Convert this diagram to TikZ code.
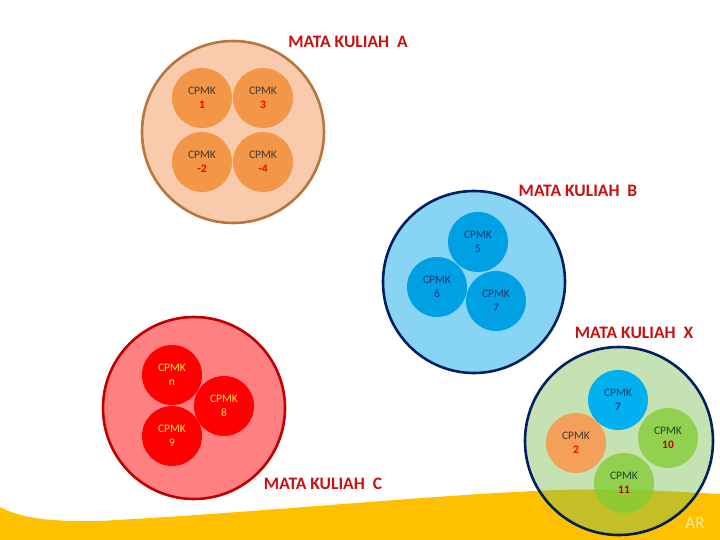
\documentclass[tikz,border=0pt]{standalone}
\usepackage{fontspec}
\setmainfont{Carlito}
\definecolor{pitajuning}{RGB}{255,192,0}
\definecolor{judulmerah}{RGB}{200,16,16}
\definecolor{navy}{RGB}{0,32,96}
\definecolor{tinta}{RGB}{64,56,48}
\definecolor{peach}{RGB}{248,203,173}
\definecolor{coklat}{RGB}{185,118,60}
\definecolor{jingga}{RGB}{242,150,72}
\definecolor{birumuda}{RGB}{135,212,245}
\definecolor{biru}{RGB}{0,160,228}
\definecolor{birutinta}{RGB}{30,60,110}
\definecolor{merahmuda}{RGB}{255,128,128}
\definecolor{merahtua}{RGB}{192,0,0}
\definecolor{kuning}{RGB}{255,226,70}
\definecolor{hijaumuda}{RGB}{125,190,85}
\definecolor{hijau}{RGB}{133,204,55}
\definecolor{hijautinta}{RGB}{25,70,40}
\definecolor{jinggax}{RGB}{244,160,90}
\definecolor{birux}{RGB}{0,176,240}

\begin{document}
\begin{tikzpicture}[x=1pt,y=1pt,
	mk/.style={circle,minimum size=182pt,line width=2.6pt},
	cpmk/.style={circle,minimum size=60pt,align=center,font=\fontsize{11.5}{13.5}\selectfont},
	judul/.style={text=judulmerah,font=\fontsize{17.5}{19}\selectfont\bfseries}]
					\tikzstyle{every node}+=[inner sep=0pt]
					\useasboundingbox (0,0) rectangle (720,-540);
					% pita kuning di bawah
					\fill [pitajuning] (0,-507) .. controls (20,-518) and (50,-522) .. (100,-521)
						.. controls (280,-511) and (440,-494) .. (560,-490)
						.. controls (630,-488) and (680,-492) .. (720,-494) -- (720,-540) -- (0,-540) -- cycle;
					\node [text=pitajuning!35!white,font=\fontsize{17}{18}\selectfont] (ar) at (695,-523) {AR};
					% mata kuliah A
					\node [mk,draw=coklat,fill=peach] (mkA) at (233,-132) {};
					\node [cpmk,fill=jingga,text=tinta] (a1) at (202,-98) {CPMK\\\textcolor{red}{\bfseries 1}};
					\node [cpmk,fill=jingga,text=tinta] (a3) at (263,-98) {CPMK\\\textcolor{red}{\bfseries 3}};
					\node [cpmk,fill=jingga,text=tinta] (a2) at (202,-162) {CPMK\\\textcolor{red}{\bfseries -2}};
					\node [cpmk,fill=jingga,text=tinta] (a4) at (263,-162) {CPMK\\\textcolor{red}{\bfseries -4}};
					\node [judul] (tA) at (348,-42) {MATA KULIAH\ \ A};
					% mata kuliah B
					\node [mk,draw=navy,fill=birumuda] (mkB) at (474,-282) {};
					\node [cpmk,fill=biru,text=birutinta] (b5) at (478,-242) {CPMK\\5};
					\node [cpmk,fill=biru,text=birutinta] (b6) at (437,-287) {CPMK\\6};
					\node [cpmk,fill=biru,text=birutinta] (b7) at (496,-301) {CPMK\\7};
					\node [judul] (tB) at (578,-191) {MATA KULIAH\ \ B};
					% mata kuliah C
					\node [mk,draw=merahtua,fill=merahmuda] (mkC) at (194,-408) {};
					\node [cpmk,fill=red,text=kuning] (cn) at (172,-375) {CPMK\\n};
					\node [cpmk,fill=red,text=kuning] (c8) at (224,-406) {CPMK\\8};
					\node [cpmk,fill=red,text=kuning] (c9) at (172,-436) {CPMK\\9};
					\node [judul] (tC) at (323,-484) {MATA KULIAH\ \ C};
					% mata kuliah X
					\node [mk,draw=navy,fill=hijaumuda,fill opacity=0.45,text opacity=1,minimum size=188pt] (mkX) at (619,-441) {};
					\node [cpmk,fill=birux,text=birutinta] (x7) at (618,-400) {CPMK\\\textbf{7}};
					\node [cpmk,fill=jinggax,text=tinta] (x2) at (576,-443) {CPMK\\\textcolor{red}{\bfseries 2}};
					\node [cpmk,fill=hijau,fill opacity=0.8,text opacity=1,text=hijautinta] (x10) at (668,-438) {CPMK\\\textcolor{merahtua}{\bfseries 10}};
					\node [cpmk,fill=hijau,fill opacity=0.8,text opacity=1,text=hijautinta] (x11) at (624,-483) {CPMK\\\textcolor{merahtua}{\bfseries 11}};
					\node [judul] (tX) at (634,-333) {MATA KULIAH\ \ X};
				\end{tikzpicture}
\end{document}
